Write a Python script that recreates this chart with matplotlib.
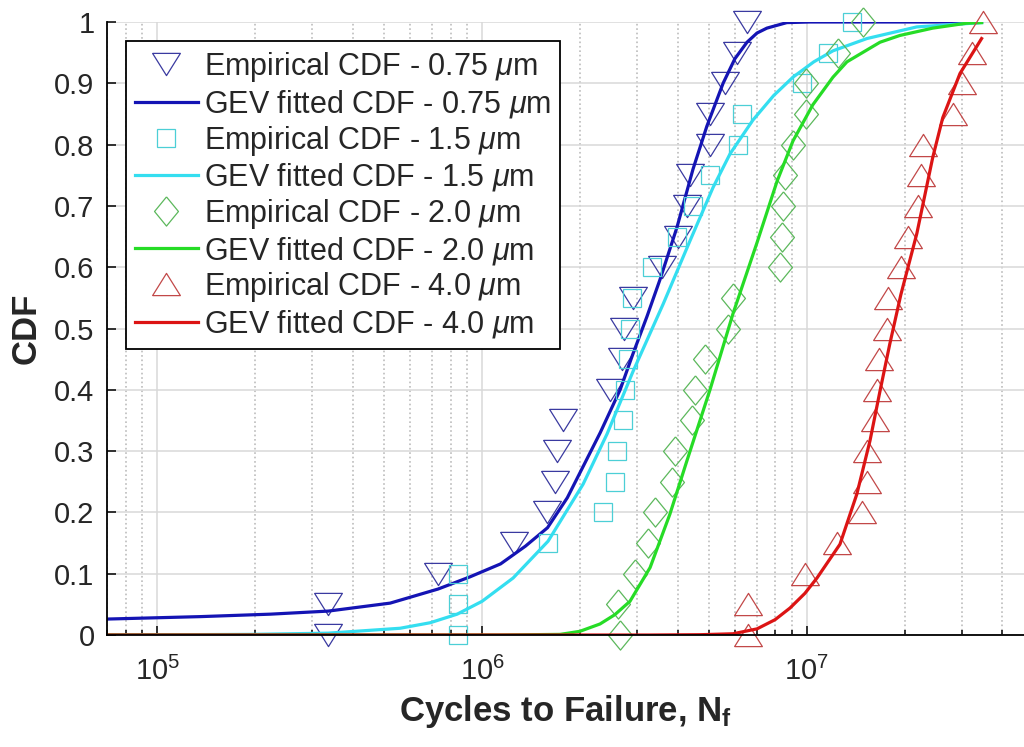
import matplotlib
matplotlib.use('Agg')
import matplotlib.pyplot as plt
from matplotlib.ticker import LogLocator, NullFormatter

plt.rcParams['font.family'] = ['Liberation Sans', 'DejaVu Sans']
plt.rcParams['mathtext.fontset'] = 'custom'
plt.rcParams['mathtext.rm'] = 'Liberation Sans'
plt.rcParams['mathtext.it'] = 'Liberation Sans:italic'
plt.rcParams['mathtext.bf'] = 'Liberation Sans:bold'

# empirical CDF levels (same for all four sizes)
cdf_levels = [0, 0.05, 0.1, 0.15, 0.2, 0.25, 0.3, 0.35, 0.4, 0.45, 0.5,
              0.55, 0.6, 0.65, 0.7, 0.75, 0.8, 0.85, 0.9, 0.95, 1.0]

# cycles to failure
nf_075 = [3.36e5, 3.36e5, 7.3e5, 1.25e6, 1.58e6, 1.68e6, 1.70e6, 1.78e6, 2.48e6, 2.70e6, 2.74e6,
          2.92e6, 3.58e6, 4.01e6, 4.27e6, 4.37e6, 5.03e6, 5.03e6, 5.6e6, 6.09e6, 6.54e6]
nf_15 = [8.4e5, 8.4e5, 8.4e5, 1.6e6, 2.36e6, 2.57e6, 2.6e6, 2.72e6, 2.75e6, 2.81e6, 2.85e6,
         2.9e6, 3.34e6, 3.98e6, 4.46e6, 5.03e6, 6.13e6, 6.31e6, 9.65e6, 1.16e7, 1.38e7]
nf_20 = [2.66e6, 2.62e6, 2.96e6, 3.24e6, 3.41e6, 3.84e6, 3.93e6, 4.43e6, 4.52e6, 4.86e6, 5.71e6,
         5.92e6, 8.26e6, 8.38e6, 8.44e6, 8.56e6, 9.06e6, 9.93e6, 9.93e6, 1.25e7, 1.49e7]
nf_40 = [6.58e6, 6.58e6, 9.86e6, 1.24e7, 1.48e7, 1.53e7, 1.53e7, 1.62e7, 1.64e7, 1.67e7, 1.76e7,
         1.78e7, 1.95e7, 2.05e7, 2.2e7, 2.24e7, 2.28e7, 2.81e7, 3.0e7, 3.22e7, 3.48e7]

# GEV fitted curves
fit_075_x = [7.0e4, 1.36e5, 2.23e5, 3.36e5, 5.21e5, 7.32e5, 9.19e5, 1.14e6, 1.36e6, 1.59e6, 1.83e6,
             2.31e6, 2.66e6, 2.92e6, 3.22e6, 3.53e6, 3.98e6, 4.46e6, 4.92e6, 5.52e6, 6.0e6, 6.54e6,
             7.02e6, 7.53e6, 8.67e6, 1.02e7, 3.45e7]
fit_075_y = [0.026, 0.030, 0.034, 0.039, 0.052, 0.075, 0.095, 0.116, 0.145, 0.175, 0.224,
             0.33, 0.40, 0.46, 0.52, 0.58, 0.665, 0.76, 0.83, 0.90, 0.94, 0.967,
             0.982, 0.99, 0.999, 1.0, 1.0]
fit_15_x = [7.0e4, 1.93e5, 3.36e5, 5.59e5, 6.92e5, 8.38e5, 1.0e6, 1.246e6, 1.596e6, 2.046e6, 2.425e6,
            2.915e6, 3.61e6, 4.365e6, 5.14e6, 5.8e6, 6.82e6, 7.9e6, 9.06e6, 1.05e7, 1.203e7, 1.53e7,
            2.18e7, 3.45e7]
fit_15_y = [0.0, 0.001, 0.003, 0.011, 0.02, 0.034, 0.055, 0.093, 0.153, 0.246, 0.328,
            0.43, 0.54, 0.643, 0.73, 0.785, 0.84, 0.88, 0.91, 0.935, 0.953, 0.973,
            0.992, 0.999]
fit_20_x = [7.0e4, 1.136e6, 1.738e6, 2.0e6, 2.307e6, 2.56e6, 2.853e6, 3.29e6, 3.785e6, 4.27e6, 5.03e6,
            5.92e6, 7.02e6, 8.09e6, 9.06e6, 1.043e7, 1.203e7, 1.328e7, 1.679e7, 1.932e7, 2.44e7,
            3.1e7, 3.45e7]
fit_20_y = [0.0, 0.0, 0.001, 0.006, 0.018, 0.033, 0.055, 0.11, 0.197, 0.284, 0.40,
            0.524, 0.64, 0.74, 0.806, 0.865, 0.91, 0.935, 0.967, 0.978, 0.99,
            0.998, 0.999]
fit_40_x = [7.0e4, 3.29e6, 4.69e6, 5.92e6, 7.02e6, 7.98e6, 8.87e6, 9.86e6, 1.074e7, 1.264e7, 1.425e7,
            1.564e7, 1.679e7, 1.8e7, 1.946e7, 2.18e7, 2.44e7, 2.62e7, 2.96e7, 3.45e7]
fit_40_y = [0.0, 0.0, 0.0005, 0.002, 0.01, 0.025, 0.044, 0.068, 0.093, 0.148, 0.23,
            0.317, 0.398, 0.475, 0.555, 0.655, 0.779, 0.844, 0.916, 0.973]

sizes = ['0.75', '1.5', '2.0', '4.0']
yticks = [0, 0.1, 0.2, 0.3, 0.4, 0.5, 0.6, 0.7, 0.8, 0.9, 1]
ytick_labels = ['0', '0.1', '0.2', '0.3', '0.4', '0.5', '0.6', '0.7', '0.8', '0.9', '1']

tri_down = [(-1, 0.8), (1, 0.8), (0, -0.8), (-1, 0.8)]
tri_up = [(-1, -0.8), (1, -0.8), (0, 0.8), (-1, -0.8)]
diamond = [(0, 1), (0.82, 0), (0, -1), (-0.82, 0), (0, 1)]

series = [
    (nf_075, fit_075_x, fit_075_y, tri_down, 20, '#3a3aa0', '#1414b4'),
    (nf_15, fit_15_x, fit_15_y, 's', 13.5, '#4ccfd6', '#34def0'),
    (nf_20, fit_20_x, fit_20_y, diamond, 21, '#5cb85c', '#26dc26'),
    (nf_40, fit_40_x, fit_40_y, tri_up, 20, '#c24848', '#dc1414'),
]

fig = plt.figure(figsize=(10.24, 7.47), dpi=100)
ax = fig.add_axes([107/1024, 1 - 635/747, 1 - 107/1024, 613/747])

for (nf, fx, fy, mk, ms, mcol, lcol), s in zip(series, sizes):
    ax.plot(nf, cdf_levels, linestyle='none', marker=mk, markersize=ms,
            markerfacecolor='none', markeredgecolor=mcol, markeredgewidth=0.9,
            clip_on=False, label='Empirical CDF - ' + s + r' $\mu$m')
    ax.plot(fx, fy, color=lcol, linewidth=2.3, solid_joinstyle='round',
            label='GEV fitted CDF - ' + s + r' $\mu$m')

ax.set_xscale('log')
ax.set_xlim(7.0e4, 4.66e7)
ax.set_ylim(0, 1)
ax.set_yticks(yticks)
ax.set_yticklabels(ytick_labels)
ax.xaxis.set_major_locator(LogLocator(base=10))
ax.xaxis.set_minor_locator(LogLocator(base=10, subs=[2, 3, 4, 5, 6, 7, 8, 9]))
ax.xaxis.set_minor_formatter(NullFormatter())

ax.grid(which='major', color='#d8d8d8', linewidth=1.1, linestyle='-')
ax.grid(which='minor', axis='x', color='#bcbcbc', linewidth=1.2, linestyle=':')

for side in ['top', 'right']:
    ax.spines[side].set_visible(False)
for side in ['left', 'bottom']:
    ax.spines[side].set_linewidth(1.3)
    ax.spines[side].set_color('black')

ax.tick_params(which='both', direction='in', top=False, right=False, width=1.1)
ax.tick_params(which='major', length=6.5)
ax.tick_params(which='minor', length=3.5)
ax.tick_params(axis='y', labelsize=21, pad=9, colors='black', labelcolor='#262626')
ax.tick_params(axis='x', labelsize=21, pad=16, labelcolor='#262626')

ax.set_xlabel(r'Cycles to Failure, N$_{\mathbf{f}}$', fontsize=25, fontweight='bold',
              color='#262626', labelpad=5)
ax.set_ylabel('CDF', fontsize=25, fontweight='bold', color='#262626', labelpad=8)

leg = ax.legend(loc='upper left', bbox_to_anchor=(126/1024, 1 - 41/747),
                bbox_transform=fig.transFigure, fontsize=22, numpoints=1,
                frameon=True, fancybox=False, framealpha=1, edgecolor='black',
                handlelength=2.05, handletextpad=0.2, labelspacing=0.12,
                borderpad=0.3, borderaxespad=0)
leg.get_frame().set_linewidth(1.3)
leg.set_zorder(5)
for t in leg.get_texts():
    t.set_color('#262626')

fig.savefig('out.png', dpi=100)
